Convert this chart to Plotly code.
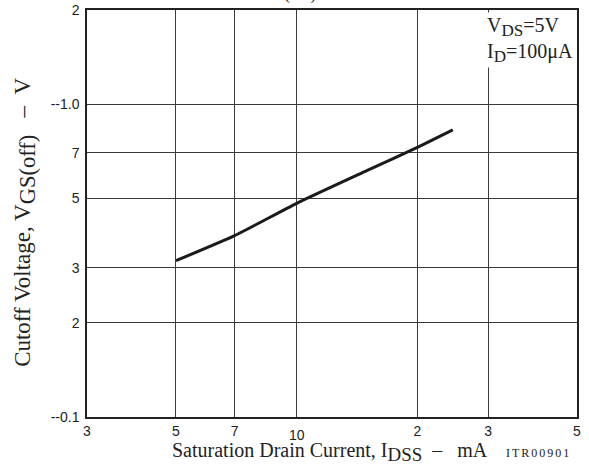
import plotly.graph_objects as go

# Data
idss_mA = [5, 7, 10, 15, 20, 24.5]
vgs_off_V = [0.316, 0.380, 0.482, 0.614, 0.728, 0.828]

x_tickvals = [3, 5, 7, 10, 20, 30, 50]
x_ticktext = ["3", "5", "7", "", "2", "3", "5"]
y_tickvals = [0.1, 0.2, 0.3, 0.5, 0.7, 1.0, 2]
y_ticktext = ["--0.1", "2", "3", "5", "7", "--1.0", "2"]

serif = "Liberation Serif"
sans = "Liberation Sans"
NB = "\u00a0"


def sub(t, pct=122):
    return '<sub><span style="font-size:%d%%">' % pct + t + '</span></sub>'


fig = go.Figure()
fig.add_trace(go.Scatter(x=idss_mA, y=vgs_off_V, mode="lines",
                         line=dict(color="#1a1a1a", width=3, shape="spline", smoothing=0.5),
                         showlegend=False, hoverinfo="skip"))

fig.update_layout(
    width=589, height=468,
    margin=dict(l=87, r=12, t=10, b=51),
    paper_bgcolor="white", plot_bgcolor="white",
    xaxis=dict(type="log", range=[0.47712, 1.69897], automargin=False,
               tickmode="array", tickvals=x_tickvals, ticktext=x_ticktext,
               showgrid=True, gridcolor="#3a3a3a", gridwidth=1,
               showline=True, linecolor="#222", linewidth=1.5, mirror=True,
               ticks="", zeroline=False, ticklabelstandoff=0,
               tickfont=dict(family=sans, size=14, color="#222")),
    yaxis=dict(type="log", range=[-1, 0.30103], automargin=False,
               tickmode="array", tickvals=y_tickvals, ticktext=y_ticktext,
               showgrid=True, gridcolor="#3a3a3a", gridwidth=1,
               showline=True, linecolor="#222", linewidth=1.5, mirror=True,
               ticks="", zeroline=False, ticklabelstandoff=3,
               tickfont=dict(family=sans, size=14, color="#222")),
)

# "10" label sits lower than the other x tick labels
fig.add_annotation(x=1, xref="x", y=0, yref="paper", text="10", showarrow=False,
                   yanchor="top", yshift=-8, font=dict(family=sans, size=14, color="#222"))

# Axis titles
fig.add_annotation(x=0.5, xref="paper", y=0, yref="paper",
                   text="Saturation Drain Current, I" + sub("DSS", 135)
                        + NB * 2 + "–" + NB * 3 + "mA",
                   showarrow=False, xanchor="center", yanchor="top", yshift=-20, xshift=-2,
                   font=dict(family=serif, size=20, color="#222"))
fig.add_annotation(x=1, xref="paper", y=0, yref="paper",
                   text='<span style="letter-spacing:2px">ITR00901</span>',
                   showarrow=False, xanchor="right", yanchor="top", yshift=-27, xshift=-4,
                   font=dict(family=serif, size=12, color="#222"))
fig.add_annotation(x=0, xref="paper", y=0.477, yref="paper",
                   text="Cutoff Voltage, V" + sub("GS(off)", 140)
                        + NB * 3 + "–" + NB * 2 + "V",
                   showarrow=False, textangle=-90, xanchor="center", yanchor="middle",
                   xshift=-62,
                   font=dict(family=serif, size=23, color="#222"))

# Conditions box (top right)
fig.add_annotation(x=1, xref="paper", y=1, yref="paper",
                   text="V" + sub("DS") + "=5V<br>I" + sub("D") + "=100μA",
                   showarrow=False, xanchor="right", yanchor="top", align="left",
                   xshift=-2, yshift=-2, bgcolor="white",
                   font=dict(family=serif, size=20, color="#222"))

# Chart title cut off at top edge
fig.add_annotation(x=0.5, xref="paper", y=1, yref="paper",
                   text="V" + sub("GS(off)") + NB * 5 + "–" + NB * 5 + "I" + sub("DSS"),
                   showarrow=False, xanchor="center", yanchor="bottom", yshift=4,
                   font=dict(family=serif, size=21, color="#222"))

fig.write_html("out.html", config={"displayModeBar": False},
               post_script="document.body.style.margin='0';")
